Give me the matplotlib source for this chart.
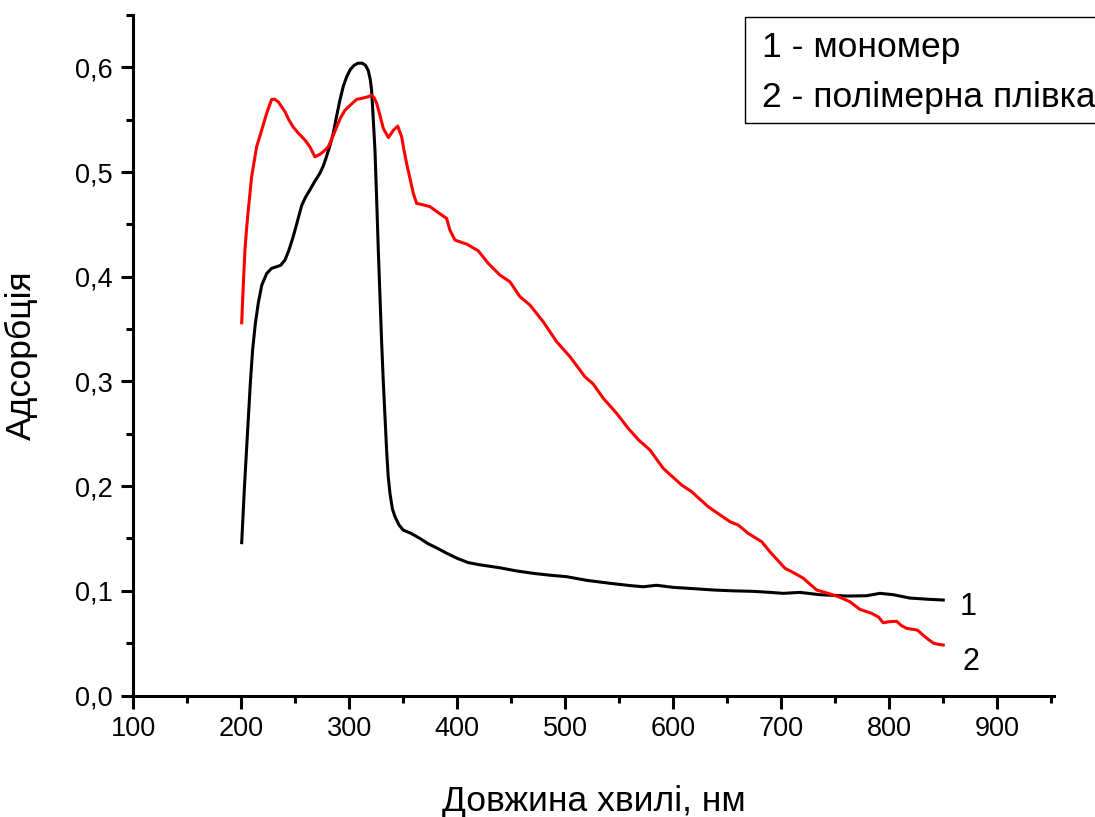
import matplotlib
matplotlib.use("Agg")
import matplotlib.pyplot as plt
from matplotlib.patches import Rectangle
from matplotlib.ticker import MultipleLocator, FuncFormatter

plt.rcParams["font.family"] = ["Liberation Sans", "DejaVu Sans"]

# ---- data ----
mono_x = [200.4, 203, 206, 208.5, 210.5, 213, 215.8, 219, 223.5, 228, 232.8, 236.5,
          240.5, 244, 248, 252, 255.9, 259.5, 263.6, 268, 272.9, 276, 279, 282,
          285.2, 288, 291.4, 294.5, 297.6, 301, 304.5, 308.3, 312, 315, 317.6,
          319.5, 320.7, 322, 323.8, 325.5, 326.9, 328.5, 330, 331.5, 334.6, 336,
          337.7, 340, 342.3, 346, 350, 357, 365.5, 373, 380.9, 390, 400, 410, 420,
          439.5, 455, 470.4, 485, 501.3, 520, 541.4, 560, 572.2, 584.6, 600, 620,
          637, 655, 674, 690, 701.9, 717.3, 735.8, 760.5, 779, 791.4, 803.7, 819,
          835, 850]
mono_y = [0.146, 0.20, 0.255, 0.30, 0.33, 0.355, 0.375, 0.392, 0.403, 0.408, 0.4096, 0.411,
          0.416, 0.425, 0.438, 0.453, 0.468, 0.476, 0.483, 0.491, 0.499, 0.506, 0.515, 0.525,
          0.537, 0.552, 0.569, 0.582, 0.591, 0.598, 0.602, 0.604, 0.604, 0.602, 0.597,
          0.588, 0.578, 0.555, 0.521, 0.47, 0.425, 0.38, 0.337, 0.30, 0.234, 0.21,
          0.193, 0.178, 0.171, 0.163, 0.158, 0.155, 0.150, 0.145, 0.141, 0.136, 0.131, 0.127, 0.125,
          0.122, 0.119, 0.1167, 0.115, 0.1135, 0.110, 0.1072, 0.105, 0.1039, 0.1053, 0.1033, 0.102,
          0.1008, 0.100, 0.0995, 0.0985, 0.0976, 0.0985, 0.0963, 0.095, 0.0953, 0.0976, 0.0963, 0.0931,
          0.092, 0.0912]

film_x = [200.4, 201.8, 203.4, 205, 206.5, 209.6, 214.2, 218.9, 223.5, 228.1, 231, 234.3,
          240.5, 244, 248.1, 253, 259, 263.6, 268.2, 272.9, 276.5, 280.5, 284, 288.3,
          292, 296, 301, 306.8, 312, 317.6, 320.7, 323, 325.4, 328, 331.5, 336.2,
          340.9, 344.9, 348.5, 350.5, 353.1, 356.2, 359.3, 362.4, 365.5, 374.7, 380,
          387, 390.1, 393.2, 397.9, 408.7, 419.4, 428.7, 439.5, 448.8, 458, 467.3,
          479.6, 492, 504.4, 518.2, 525.9, 535.2, 547.6, 558.3, 568, 578.4, 590.7,
          607.8, 617, 632.4, 652.5, 660.2, 669.4, 681.9, 689.5, 703.5, 712, 720.4,
          732.8, 745.1, 754, 763.5, 772.8, 783.6, 790, 794.4, 800, 806.8, 811, 816,
          822, 826, 831, 836, 841, 845, 850]
film_y = [0.356, 0.39, 0.4255, 0.447, 0.4637, 0.4955, 0.524, 0.540, 0.556, 0.5694, 0.5695, 0.567,
          0.5576, 0.550, 0.543, 0.537, 0.5306, 0.524, 0.5146, 0.517, 0.520, 0.524, 0.532, 0.543,
          0.552, 0.559, 0.564, 0.5694, 0.5705, 0.572, 0.5735, 0.571, 0.5656, 0.556, 0.5418, 0.533,
          0.540, 0.5439, 0.5337, 0.522, 0.5083, 0.494, 0.4797, 0.470, 0.4694, 0.467, 0.463,
          0.458, 0.4558, 0.4446, 0.435, 0.4312, 0.4248, 0.4128, 0.4016, 0.3952, 0.381, 0.373,
          0.357, 0.338, 0.3236, 0.3045, 0.2975, 0.2839, 0.2695, 0.2552, 0.244, 0.2345, 0.217,
          0.201, 0.1947, 0.1803, 0.166, 0.1628, 0.1549, 0.1469, 0.1373, 0.1215, 0.117, 0.112,
          0.1008, 0.097, 0.094, 0.0896, 0.0823, 0.0785, 0.075, 0.0695, 0.0705, 0.0709, 0.067, 0.0642,
          0.0632, 0.0625, 0.058, 0.0537, 0.050, 0.049, 0.0482]

legend_lines = ["1 - мономер", "2 - полімерна плівка"]
curve_labels = ["1", "2"]
label_pos = [(873, 0.0845), (876, 0.032)]

# ---- figure ----
fig = plt.figure(figsize=(10.95, 8.17), dpi=100)
ax = fig.add_axes([0.1217, 0.1487, 0.8413, 0.8329])

ax.plot(mono_x, mono_y, color="black", linewidth=2.2, solid_joinstyle="round")
ax.plot(film_x, film_y, color="red", linewidth=2.2, solid_joinstyle="round")

ax.set_xlim(100, 953)
ax.set_ylim(0, 0.65)
for side in ["top", "right"]:
    ax.spines[side].set_visible(False)
for side in ["left", "bottom"]:
    ax.spines[side].set_linewidth(2.2)

ax.xaxis.set_major_locator(MultipleLocator(100))
ax.xaxis.set_minor_locator(MultipleLocator(50))
ax.yaxis.set_major_locator(MultipleLocator(0.1))
ax.yaxis.set_minor_locator(MultipleLocator(0.05))
ax.yaxis.set_major_formatter(FuncFormatter(lambda v, p: f"{v:.1f}".replace(".", ",")))
ax.tick_params(which="major", length=9, width=2.2, labelsize=19.5, pad=6)
ax.tick_params(which="minor", length=5, width=2.2)
ax.tick_params(axis="x", which="major", pad=6)

ax.set_xlabel("Довжина хвилі, нм", fontsize=25.5)
ax.xaxis.set_label_coords(0.5, -0.131)
ax.set_ylabel("Адсорбція", fontsize=25.5)
ax.yaxis.set_label_coords(-0.104, 0.5)

for lab, (lx, ly) in zip(curve_labels, label_pos):
    ax.text(lx, ly, lab, fontsize=22, ha="center", va="center")

# legend box (runs off the right edge, as in the original)
fig.patches.append(Rectangle((745 / 1095, 1 - 123 / 817), 0.4, 106 / 817,
                             transform=fig.transFigure, fill=False,
                             edgecolor="black", linewidth=1.0))
fig.text(762 / 1095, 1 - 47 / 817, legend_lines[0], fontsize=25.5, va="center", ha="left")
fig.text(762 / 1095, 1 - 98 / 817, legend_lines[1], fontsize=25.5, va="center", ha="left")

fig.savefig("out.png", dpi=100)
